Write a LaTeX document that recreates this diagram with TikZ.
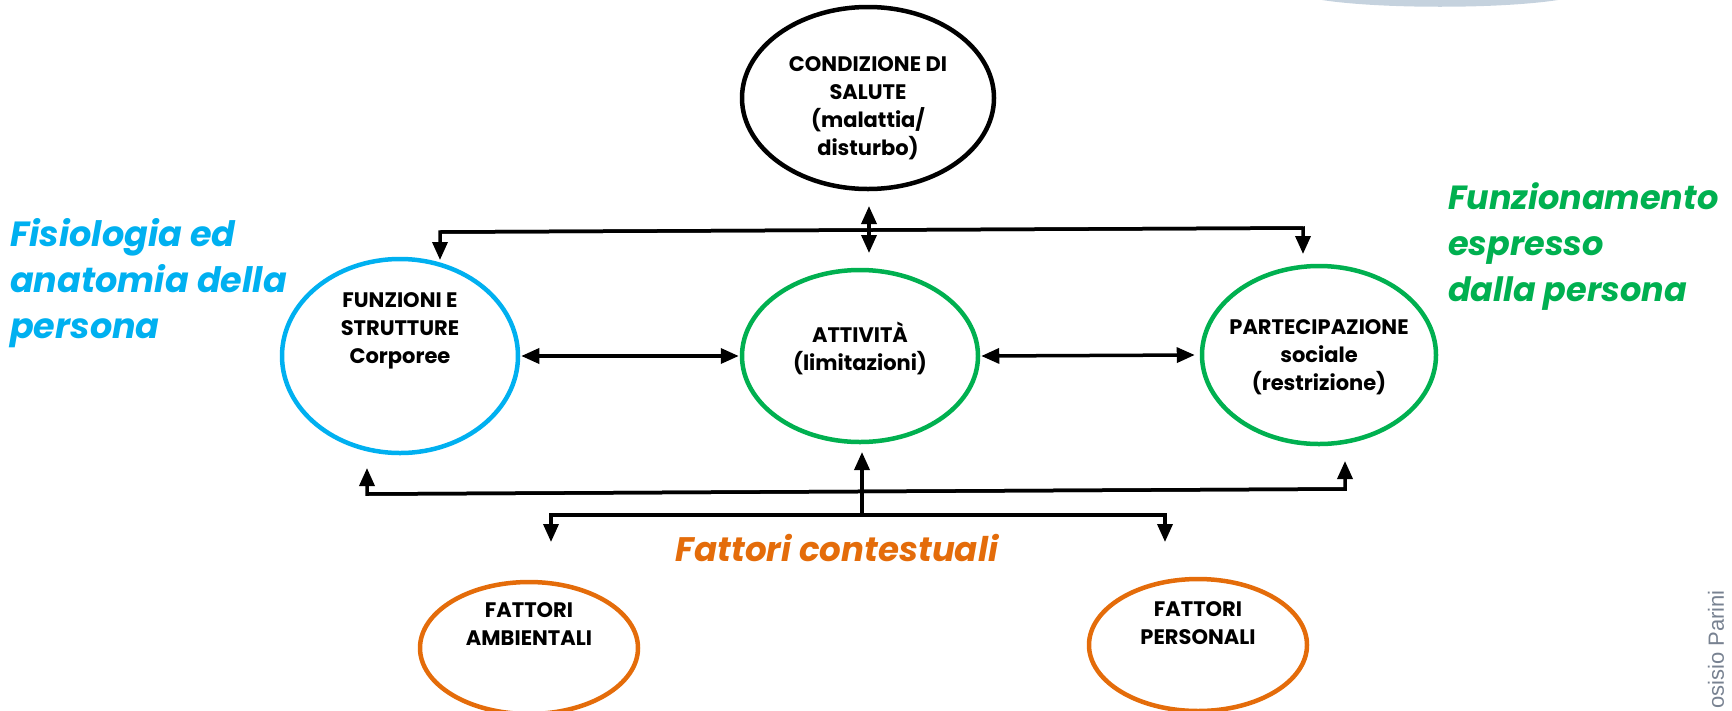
\documentclass[tikz,border=0pt]{standalone}
\usepackage{fontspec}
\setmainfont{Poppins}
\newfontfamily\gray{Liberation Sans}
\usetikzlibrary{arrows.meta,shapes.geometric}
\definecolor{cblue}{RGB}{0,176,240}
\definecolor{cgreen}{RGB}{0,176,80}
\definecolor{corange}{RGB}{228,108,10}
\definecolor{cblob}{RGB}{197,210,222}
\definecolor{cgray}{RGB}{120,130,145}
\tikzset{
  oval/.style={ellipse, draw, line width=4.5pt, inner sep=0pt},
  otext/.style={align=center, font=\fontsize{21}{28}\selectfont\bfseries, inner sep=0pt},
  side/.style={align=left, anchor=north west, font=\fontsize{35}{46}\selectfont\bfseries\itshape, inner sep=0pt},
  conn/.style={line width=3.5pt, -{Triangle[width=15pt,length=18pt]}},
  conn2/.style={line width=3.5pt, {Triangle[width=15pt,length=18pt]}-{Triangle[width=15pt,length=18pt]}},
}
\begin{document}
\begin{tikzpicture}[x=1pt,y=-1pt]
\useasboundingbox (0,0) rectangle (1732,710);
\fill[cblob] (1322,0) .. controls (1380,9) and (1500,9) .. (1558,0) -- cycle;
% ovals
\node[oval, minimum width=252pt, minimum height=182pt] (salute) at (868,98) {};
\node[oval, draw=cblue, minimum width=236pt, minimum height=194pt] (funz) at (400,356) {};
\node[oval, draw=cgreen, minimum width=236pt, minimum height=172pt] (att) at (860,356) {};
\node[oval, draw=cgreen, minimum width=234pt, minimum height=178pt] (part) at (1319,355) {};
\node[oval, draw=corange, minimum width=218pt, minimum height=132pt] (amb) at (529,648) {};
\node[oval, draw=corange, minimum width=218pt, minimum height=132pt] (pers) at (1198,645) {};
% texts
\node[otext] (tsalute) at (868,108) {CONDIZIONE DI\\SALUTE\\(malattia/\\disturbo)};
\node[otext] (tfunz) at (400,331) {FUNZIONI E\\STRUTTURE\\Corporee};
\node[otext] (tatt) at (860,348) {ATTIVITÀ\\(limitazioni)};
\node[otext] (tpart) at (1319,357) {PARTECIPAZIONE\\sociale\\(restrizione)};
\node[otext] (tamb) at (529,624) {FATTORI\\AMBIENTALI};
\node[otext] (tpers) at (1198,623) {FATTORI\\PERSONALI};
% side labels
\node[side, text=cblue] (fis) at (10,218) {Fisiologia ed\\anatomia della\\persona};
\node[side, text=cgreen, font=\fontsize{33.5}{46}\selectfont\bfseries\itshape] (fun) at (1448,182) {Funzionamento\\espresso\\dalla persona};
\node[font=\fontsize{34}{40}\selectfont\bfseries\itshape, text=corange, inner sep=0pt] (ctx) at (837,548) {Fattori contestuali};
\node[font=\gray\fontsize{22}{24}\selectfont, text=cgray, rotate=90, anchor=east, inner sep=0pt] (parini) at (1716,590) {osisio Parini};
% coordinates
\coordinate (tl) at (440,232);
\coordinate (tr) at (1303,228);
\coordinate (bl) at (367,494);
\coordinate (br) at (1345,489);
\coordinate (ml) at (551,515);
\coordinate (mr) at (1165,515);
\coordinate (mc) at (862,515);
% connectors
\draw[conn] (tl) -- (tr) -- (1303,254);
\draw[conn] (tr) -- (tl) -- (440,260);
\draw[conn2] (869,206) -- (869,253);
\draw[conn2] ([xshift=1pt]funz.east) -- ([xshift=-1pt]att.west);
\draw[conn2] ([xshift=1pt]att.east) -- ([xshift=-5pt]part.west);
\draw[conn] (br) -- (bl) -- (367,468);
\draw[conn] (bl) -- (br) -- (1345,461);
\draw[conn] (mc) -- (862,452);
\draw[conn] (mc) -- (ml) -- (551,542);
\draw[conn] (mc) -- (mr) -- (1165,542);
\end{tikzpicture}
\end{document}
